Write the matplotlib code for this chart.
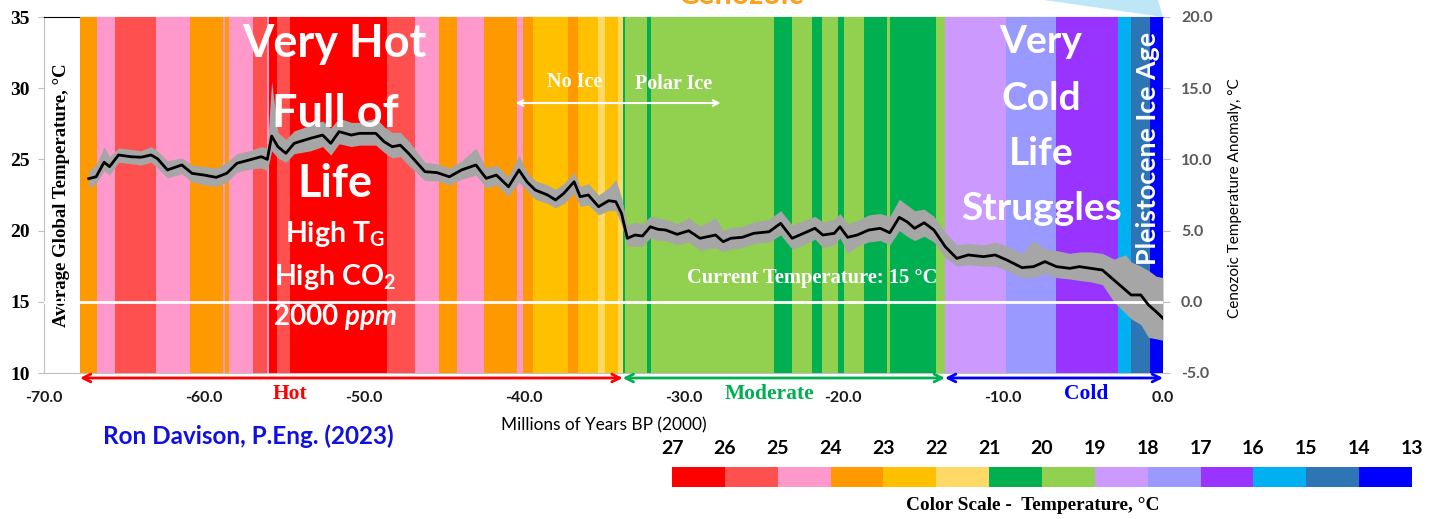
import matplotlib.pyplot as plt
from matplotlib.patches import Polygon

# ----------------- data -----------------------------------------------#
# Myr before present, smoothed temperature (black) and grey spread (hi/lo)
age = [-67.20, -66.74, -66.24, -65.90, -65.34, -64.58, -63.94, -63.30, -62.90, -62.28,
       -61.38, -60.74, -59.98, -59.23, -58.57, -57.93, -57.16, -56.41, -56.03, -55.76,
       -55.37, -54.87, -54.35, -53.34, -52.57, -52.06, -51.54, -50.78, -50.26, -49.24,
       -48.73, -48.22, -47.71, -47.20, -46.17, -45.41, -44.64, -43.88, -42.98, -42.34,
       -41.70, -40.94, -40.29, -39.79, -39.27, -38.50, -38.00, -37.48, -36.84, -36.46,
       -35.95, -35.31, -34.68, -34.23, -33.87, -33.51, -33.03, -32.56, -32.07, -31.59,
       -31.11, -30.39, -29.67, -28.96, -27.99, -27.51, -27.04, -26.32, -25.60, -24.64,
       -23.92, -23.20, -22.48, -21.77, -21.28, -20.56, -20.21, -19.73, -19.13, -18.41,
       -17.69, -17.09, -16.50, -16.01, -15.54, -14.94, -14.33, -13.62, -12.90, -12.18,
       -11.22, -10.50, -9.78, -8.82, -8.10, -7.38, -6.67, -5.83, -5.23, -4.51,
       -3.79, -3.07, -2.35, -1.99, -1.39, -0.91, -0.43, 0.00]
temp = [23.65, 23.78, 24.80, 24.49, 25.31, 25.19, 25.15, 25.31, 25.05, 24.26,
        24.61, 24.02, 23.90, 23.74, 24.02, 24.73, 24.96, 25.19, 25.00, 26.64,
        25.89, 25.43, 26.13, 26.48, 26.71, 26.13, 26.95, 26.71, 26.83, 26.83,
        26.25, 25.89, 26.00, 25.43, 24.14, 24.07, 23.78, 24.26, 24.61, 23.67,
        23.90, 23.08, 24.26, 23.43, 22.85, 22.50, 22.15, 22.62, 23.43, 22.38,
        22.50, 21.68, 22.10, 22.03, 21.20, 19.46, 19.69, 19.62, 20.27, 20.09,
        20.04, 19.74, 19.99, 19.46, 19.69, 19.22, 19.46, 19.53, 19.81, 19.92,
        20.51, 19.46, 19.81, 20.16, 19.69, 19.81, 20.27, 19.53, 19.69, 20.04,
        20.16, 19.85, 20.93, 20.62, 20.16, 20.55, 20.04, 18.87, 18.05, 18.29,
        18.17, 18.29, 17.94, 17.40, 17.47, 17.82, 17.47, 17.35, 17.47, 17.35,
        17.23, 16.53, 15.83, 15.48, 15.48, 14.78, 14.31, 13.84]
temp_hi = [24.2, 24.6, 25.9, 25.2, 25.8, 25.7, 25.6, 25.9, 25.6, 24.9,
           25.1, 24.6, 24.5, 24.4, 24.8, 25.4, 25.6, 25.9, 25.8, 30.5,
           26.9, 26.4, 27.0, 27.4, 27.7, 27.2, 27.9, 27.6, 27.6, 27.9,
           27.3, 26.9, 26.9, 26.3, 24.8, 24.7, 24.4, 24.9, 25.8, 24.4,
           24.6, 23.8, 25.3, 24.1, 23.5, 23.2, 22.9, 23.3, 24.1, 23.1,
           23.3, 22.5, 23.0, 23.6, 22.3, 20.4, 20.6, 20.5, 21.0, 20.9,
           20.8, 20.5, 20.9, 20.3, 20.9, 20.0, 20.2, 20.3, 20.6, 20.8,
           21.4, 20.4, 20.7, 21.0, 20.6, 20.8, 21.2, 20.5, 20.7, 21.1,
           21.2, 21.0, 22.2, 21.8, 21.4, 21.5, 21.0, 19.9, 19.0, 19.1,
           19.0, 19.2, 18.9, 18.4, 19.3, 18.7, 18.6, 18.4, 18.5, 18.5,
           18.4, 18.0, 18.3, 17.8, 17.5, 17.2, 16.8, 16.7]
temp_lo = [23.0, 23.3, 24.2, 23.9, 24.8, 24.7, 24.6, 24.8, 24.4, 23.7,
           24.0, 23.4, 23.2, 23.1, 23.4, 24.1, 24.3, 24.4, 24.2, 25.6,
           25.1, 24.8, 25.4, 25.6, 25.9, 25.3, 26.1, 25.9, 26.0, 26.0,
           25.5, 25.1, 25.2, 24.6, 23.5, 23.5, 23.2, 23.6, 23.9, 23.0,
           23.2, 22.4, 23.4, 22.8, 22.2, 21.9, 21.6, 21.9, 22.6, 21.7,
           21.8, 21.1, 21.4, 21.4, 20.4, 18.9, 18.9, 18.9, 19.5, 19.3,
           19.3, 19.0, 19.2, 18.6, 18.8, 18.5, 18.7, 18.8, 19.1, 19.2,
           19.7, 18.7, 19.0, 19.4, 18.8, 19.0, 19.5, 18.4, 18.9, 19.2,
           19.3, 19.0, 20.0, 19.6, 19.3, 19.6, 19.2, 18.1, 17.5, 17.6,
           17.5, 17.5, 17.2, 16.7, 16.7, 17.0, 16.7, 16.6, 16.5, 16.4,
           16.2, 15.0, 14.2, 13.8, 13.4, 12.5, 12.4, 12.3]

# colour scale (temperature bins, °C)
scale_temps = [27, 26, 25, 24, 23, 22, 21, 20, 19, 18, 17, 16, 15, 14, 13]
scale_colors = ['#FF0000', '#FF5050', '#FF99CC', '#FF9900', '#FFC000', '#FFD966', '#00B050',
                '#92D050', '#CC99FF', '#9999FF', '#9933FF', '#00B0F0', '#2E75B6', '#0000FF']

# background bands: edges (Myr) and index into scale_colors
band_edges = [-67.75, -66.70, -65.55, -62.99, -60.86, -58.79, -58.66, -58.40, -56.91, -56.05,
              -55.95, -55.40, -54.60, -48.52, -46.77, -45.27, -44.14, -42.45, -40.38, -40.01,
              -39.44, -37.25, -36.62, -35.37, -34.93, -34.12, -33.81, -33.68, -32.30, -32.05,
              -24.35, -23.22, -21.97, -21.35, -20.34, -19.97, -18.72, -17.28, -17.09, -14.21,
              -13.64, -9.82, -6.69, -2.81, -1.99, -0.81, 0.00]
band_color = [3, 2, 1, 2, 3, 2, 3, 2, 1, 2,
              0, 1, 0, 1, 2, 3, 2, 3, 2, 3,
              4, 3, 4, 5, 4, 5, 6, 7, 6, 7,
              6, 7, 6, 7, 6, 7, 6, 7, 6, 7,
              8, 9, 10, 11, 12, 13]

# climate zones under the x axis
zone_edges = [-67.75, -33.80, -13.64, 0.00]
zone_names = ['Hot', 'Moderate', 'Cold']
zone_colors = ['#FF0000', '#00B050', '#0000FF']
zone_label_x = [-54.6, -24.6, -4.8]

current_temp = 15
x_ticks = [-70, -60, -50, -40, -30, -20, -10, 0]
left_ticks = [10, 15, 20, 25, 30, 35]
right_ticks = [-5, 0, 5, 10, 15, 20]

# ----------------- fonts ----------------------------------------------#
SERIF = 'Liberation Serif'
SANS = 'Lato'
plt.rcParams['mathtext.fontset'] = 'custom'
plt.rcParams['mathtext.rm'] = 'Lato:bold'
plt.rcParams['mathtext.it'] = 'Lato:italic:bold'
plt.rcParams['mathtext.bf'] = 'Lato:bold'

W, H = 1438, 519
fig = plt.figure(figsize=(W / 100, H / 100), dpi=100)

# ----------------- main axes ------------------------------------------#
ax = fig.add_axes([44 / W, 1 - 373 / H, 1119 / W, 356 / H])
ax.set_xlim(-70, 0)
ax.set_ylim(10, 35)

for x0, x1, c in zip(band_edges[:-1], band_edges[1:], band_color):
    ax.axvspan(x0, x1, color=scale_colors[c], lw=0, zorder=3)

ax.fill_between(age, temp_lo, temp_hi, color='#A6A6A6', lw=0, zorder=4)
ax.axhline(current_temp, color='white', lw=2, zorder=5)
ax.plot(age, temp, color='black', lw=2, zorder=6)

ax.spines['right'].set_visible(False)
ax.spines['top'].set_color('black')
ax.spines['left'].set_color('#BFBFBF')
ax.spines['bottom'].set_color('#BFBFBF')

ax.set_xticks(x_ticks, labels=[f'{t:.1f}' for t in x_ticks], fontfamily=SANS,
              fontweight='bold', fontsize=11.5, color='#1A1A1A')
ax.tick_params(axis='x', length=0, pad=13)
ax.set_yticks(left_ticks, labels=[str(t) for t in left_ticks], fontfamily=SERIF,
              fontweight='bold', fontsize=14)
ax.tick_params(axis='y', length=4, color='#BFBFBF', pad=6)

ax.text(0.016, 0.5, 'Average Global Temperature, °C', transform=ax.transAxes, rotation=90,
        ha='center', va='center', fontfamily=SERIF, fontweight='bold', fontsize=13.5)

# zone arrows below the axis
trans = ax.get_xaxis_transform()
for x0, x1, c, name, lx in zip(zone_edges[:-1], zone_edges[1:], zone_colors, zone_names, zone_label_x):
    ax.annotate('', xy=(x1, -0.014), xytext=(x0, -0.014), xycoords=trans, textcoords=trans,
                arrowprops=dict(arrowstyle='<->', color=c, lw=2, mutation_scale=14,
                                shrinkA=0, shrinkB=0), annotation_clip=False)
    ax.text(lx, -0.058, name, transform=trans, ha='center', va='center', color=c,
            fontfamily=SERIF, fontweight='bold', fontsize=15.5)

# ----------------- annotations inside the plot ------------------------#
big = dict(color='white', fontfamily=SANS, fontweight='bold', ha='center', va='baseline', zorder=7)
ax.text(-51.8, 32.19, 'Very Hot', fontsize=32.5, **big)
ax.text(-51.8, 27.28, 'Full of', fontsize=32.5, **big)
ax.text(-51.8, 22.36, 'Life', fontsize=32.5, **big)
ax.text(-51.8, 19.2, r'High T$_\mathregular{G}$', fontsize=20.5, **big)
ax.text(-51.8, 16.18, r'High CO$_\mathregular{2}$', fontsize=20.5, **big)
ax.text(-51.8, 13.37, r'2000 $\mathit{ppm}$', fontsize=20, **big)

ax.text(-7.63, 32.47, 'Very', fontsize=28, **big)
ax.text(-7.63, 28.47, 'Cold', fontsize=28, **big)
ax.text(-7.63, 24.6, 'Life', fontsize=28, **big)
ax.text(-7.63, 20.74, 'Struggles', fontsize=28, **big)

ax.text(-0.93, 25.8, 'Pleistocene Ice Age', rotation=90, ha='center', va='center', color='white',
        fontfamily=SANS, fontweight='bold', fontsize=19.3, zorder=7)

serif_w = dict(color='white', fontfamily=SERIF, fontweight='bold', ha='center', va='center', zorder=7)
ax.text(-36.8, 30.44, 'No Ice', fontsize=14.5, **serif_w)
ax.text(-30.6, 30.3, 'Polar Ice', fontsize=14.5, **serif_w)
ax.annotate('', xy=(-40.5, 28.96), xytext=(-33.93, 28.96),
            arrowprops=dict(arrowstyle='->', color='white', lw=1.5, shrinkA=0, shrinkB=0), zorder=7)
ax.annotate('', xy=(-27.67, 28.96), xytext=(-33.93, 28.96),
            arrowprops=dict(arrowstyle='->', color='white', lw=1.5, shrinkA=0, shrinkB=0), zorder=7)
ax.text(-21.97, 16.67, f'Current Temperature: {current_temp} °C', fontsize=14.8, **serif_w)

# ----------------- right axis (anomaly) -------------------------------#
ax2 = ax.twinx()
ax2.set_ylim(-5, 20)
for s in ax2.spines.values():
    s.set_visible(False)
ax2.set_yticks(right_ticks, labels=[f'{t:.1f}' for t in right_ticks], fontfamily=SANS,
               fontweight='bold', fontsize=11.5, color='#595959')
ax2.tick_params(axis='y', length=5, color='#BFBFBF', pad=8)
ax2.set_ylabel('Cenozoic Temperature Anomaly, °C', fontfamily=SANS, fontsize=11)
ax2.yaxis.set_label_coords(1.058, 0.49)

# ----------------- texts around the chart -----------------------------#
fig.text(604 / W, 1 - 425 / H, 'Millions of Years BP (2000)', ha='center', va='center',
         fontfamily=SANS, fontsize=12.4)
fig.text(248 / W, 1 - 436 / H, 'Ron Davison, P.Eng. (2023)', ha='center', va='center',
         fontfamily=SANS, fontweight='bold', fontsize=17.5, color='#1010E0')
fig.text(742 / W, 1 - 4 / H, 'Cenozoic', ha='center', va='baseline', fontfamily=SANS,
         fontweight='bold', fontsize=22, color='#FF9F1A')
fig.patches.append(Polygon([(1044 / W, 1), (1158 / W, 1), (1163 / W, 1 - 17 / H)], closed=True,
                           transform=fig.transFigure, color='#BDE7F7', lw=0))

# ----------------- colour scale legend --------------------------------#
lax = fig.add_axes([672 / W, 1 - 487 / H, 740 / W, 20 / H])
lax.bar(range(len(scale_colors)), [1] * len(scale_colors), width=1, align='edge', color=scale_colors)
lax.set_xlim(0, len(scale_colors))
lax.set_ylim(0, 1)
lax.axis('off')
for i, t in enumerate(scale_temps):
    lax.text(i, 1.95, str(t), ha='center', va='center', fontfamily=SANS, fontweight='bold', fontsize=14)
fig.text(1033 / W, 1 - 506 / H, 'Color Scale -  Temperature, °C', ha='center', va='center',
         fontfamily=SERIF, fontweight='bold', fontsize=13.9)

fig.savefig('out.png', dpi=100)
